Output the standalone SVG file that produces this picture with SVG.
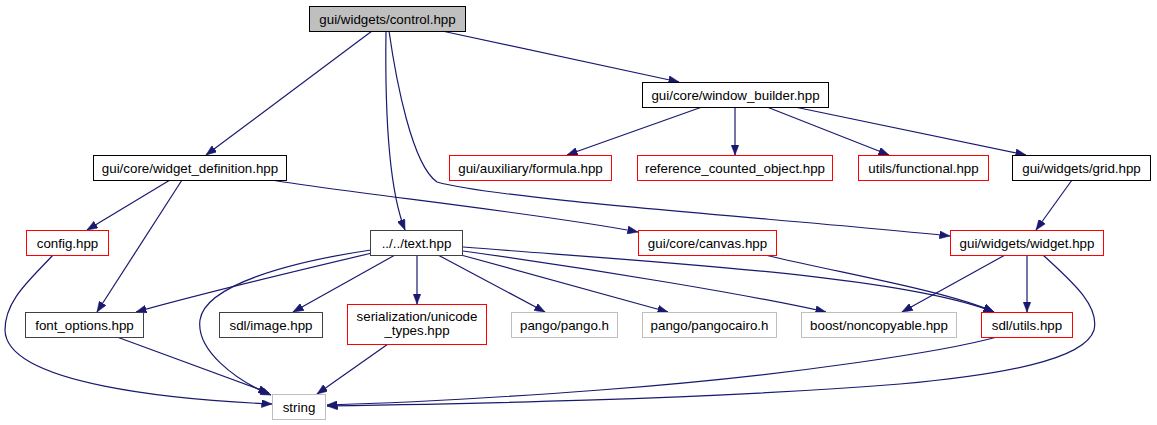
<svg xmlns="http://www.w3.org/2000/svg" width="1157" height="425" viewBox="0 0 1157 425">
<style>
.n rect{fill:#ffffff;stroke-width:1}
.b rect{stroke:#000000}
.d rect{stroke:#404040}
.r rect{stroke:#ff0000}
.g rect{stroke:#bfbfbf}
.n text{font-family:"Liberation Sans",Arial,Helvetica,sans-serif;font-size:13.33px;fill:#000000;text-anchor:middle}
#edges path{fill:none;stroke:#191970;stroke-width:1.2;marker-end:url(#arr)}
</style>
<defs>
<marker id="arr" markerUnits="userSpaceOnUse" markerWidth="11" markerHeight="8" refX="10.5" refY="4" orient="auto">
<path d="M0,0 L10.5,4 L0,8 z" fill="#191970" stroke="#191970" stroke-width="0.5"/>
</marker>
</defs>
<rect width="1157" height="425" fill="#ffffff"/>
<g id="edges">
<path d="M372,31 L206,155"/>
<path d="M386,31 C385,100 387,185 405,230"/>
<path d="M389,31 C396,80 412,165 437,182 C500,200 800,220 950,236"/>
<path d="M442,31 L679,82"/>
<path d="M702,107 L567,155"/>
<path d="M735,107 L735,155"/>
<path d="M767,107 L889,155"/>
<path d="M790,106 L1026,155"/>
<path d="M1072,180 L1036,230"/>
<path d="M170,180 L87,230"/>
<path d="M182,180 L97,312"/>
<path d="M272,180 C340,192 540,213 638,232"/>
<path d="M53,255 C30,280 5,300 5,330 C6,385 180,400 272,404"/>
<path d="M372,253 C300,270 200,294 136,312"/>
<path d="M371,250 C290,262 205,285 200,320 C196,350 235,380 271,395"/>
<path d="M395,255 L293,312"/>
<path d="M417,255 L417,304"/>
<path d="M438,255 L545,312"/>
<path d="M461,255 L668,312"/>
<path d="M463,251 C600,270 750,295 826,312"/>
<path d="M463,247 C650,262 900,275 994,312"/>
<path d="M765,255 C850,275 950,292 994,312"/>
<path d="M1005,255 L902,312"/>
<path d="M1027,255 L1027,312"/>
<path d="M1043,255 C1070,280 1100,305 1094,330 C1085,360 1000,375 900,384 C700,400 450,404 327,406"/>
<path d="M997,337 C950,350 800,375 600,390 C480,399 400,403 327,405"/>
<path d="M388,344 L317,394"/>
<path d="M117,337 L269,393"/>
</g>
<g id="control" class="n b"><rect x="309.5" y="6.5" width="156" height="25" style="fill:#bfbfbf"/><text x="387.5" y="23.5">gui/widgets/control.hpp</text></g>
<g id="window_builder" class="n b"><rect x="642.5" y="82.5" width="186" height="25"/><text x="735.5" y="99.5">gui/core/window_builder.hpp</text></g>
<g id="widget_definition" class="n b"><rect x="93.5" y="155.5" width="193" height="25"/><text x="190" y="172.5">gui/core/widget_definition.hpp</text></g>
<g id="formula" class="n r"><rect x="449.5" y="155.5" width="162" height="25"/><text x="530.5" y="172.5">gui/auxiliary/formula.hpp</text></g>
<g id="reference_counted_object" class="n r"><rect x="637.5" y="155.5" width="195" height="25"/><text x="735" y="172.5">reference_counted_object.hpp</text></g>
<g id="functional" class="n r"><rect x="858.5" y="155.5" width="130" height="25"/><text x="923.5" y="172.5">utils/functional.hpp</text></g>
<g id="grid" class="n b"><rect x="1012.5" y="155.5" width="138" height="25"/><text x="1081.5" y="172.5">gui/widgets/grid.hpp</text></g>
<g id="config" class="n r"><rect x="26.5" y="230.5" width="82" height="25"/><text x="67.5" y="247.5">config.hpp</text></g>
<g id="text" class="n d"><rect x="370.5" y="230.5" width="92" height="25"/><text x="416.5" y="247.5">../../text.hpp</text></g>
<g id="canvas" class="n r"><rect x="638.5" y="230.5" width="138" height="25"/><text x="707.5" y="247.5">gui/core/canvas.hpp</text></g>
<g id="widget" class="n r"><rect x="950.5" y="230.5" width="153" height="25"/><text x="1027" y="247.5">gui/widgets/widget.hpp</text></g>
<g id="font_options" class="n d"><rect x="25.5" y="312.5" width="118" height="25"/><text x="84.5" y="329.5">font_options.hpp</text></g>
<g id="sdl_image" class="n d"><rect x="219.5" y="312.5" width="103" height="25"/><text x="271" y="329.5">sdl/image.hpp</text></g>
<g id="unicode_types" class="n r"><rect x="347.5" y="304.5" width="139" height="40"/><text x="417" y="320.5">serialization/unicode</text><text x="417" y="335">_types.hpp</text></g>
<g id="pango" class="n g"><rect x="511.5" y="312.5" width="106" height="25"/><text x="564.5" y="329.5">pango/pango.h</text></g>
<g id="pangocairo" class="n g"><rect x="642.5" y="312.5" width="134" height="25"/><text x="709.5" y="329.5">pango/pangocairo.h</text></g>
<g id="noncopyable" class="n g"><rect x="801.5" y="312.5" width="155" height="25"/><text x="879" y="329.5">boost/noncopyable.hpp</text></g>
<g id="sdl_utils" class="n r"><rect x="981.5" y="312.5" width="91" height="25"/><text x="1027" y="329.5">sdl/utils.hpp</text></g>
<g id="string" class="n g"><rect x="272.5" y="394.5" width="53" height="25"/><text x="299" y="411.5">string</text></g>
</svg>
